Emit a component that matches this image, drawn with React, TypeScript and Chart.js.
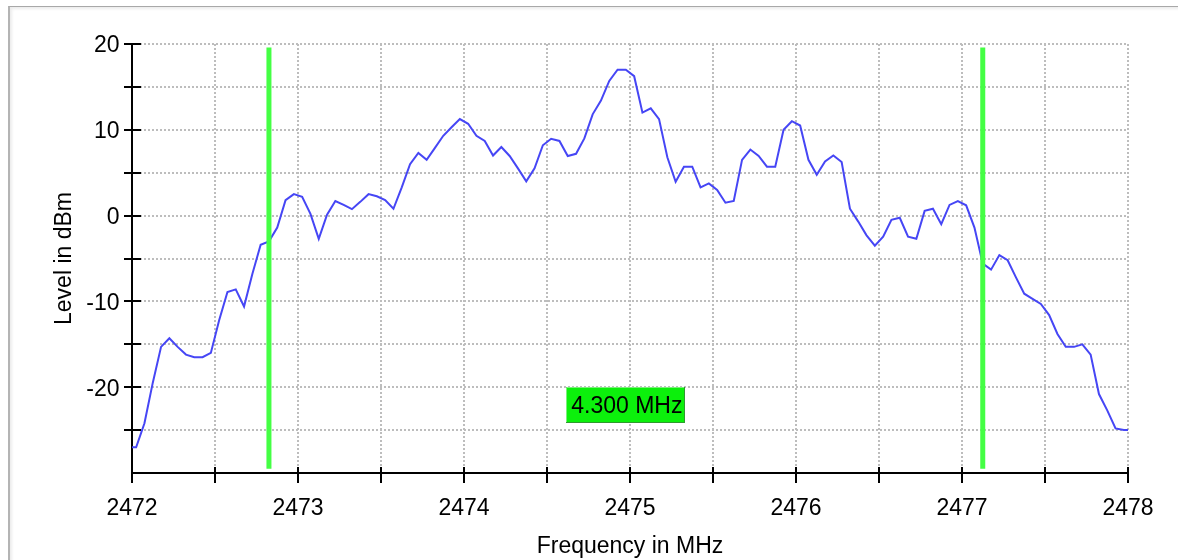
import React, { useEffect, useRef } from 'react';
import { Chart, registerables } from 'chart.js';

Chart.register(...registerables);

// Sweep definition (MHz): first sample and spacing of the analyzer trace
const FREQ_START = 2471.975;
const FREQ_STEP = 0.05;

// Measured level of each sweep point, dBm
const LEVELS_DBM = [
  -27.0,
  -27.0, -24.2, -19.5, -15.3, -14.3, -15.3, -16.2, -16.5, -16.5, -16.0,
  -12.2, -8.9, -8.6, -10.6, -6.8, -3.4, -3.0, -1.4, 1.8, 2.5,
  2.2, 0.2, -2.7, 0.1, 1.7, 1.25, 0.75, 1.6, 2.5, 2.25,
  1.8, 0.8, 3.3, 6.0, 7.3, 6.5, 7.9, 9.3, 10.3, 11.25,
  10.7, 9.3, 8.7, 7.0, 8.0, 6.95, 5.5, 4.0, 5.5, 8.2,
  8.95, 8.7, 6.95, 7.2, 9.0, 11.8, 13.4, 15.7, 17.0, 17.0,
  16.25, 12.0, 12.5, 11.25, 6.8, 3.95, 5.7, 5.7, 3.3, 3.75,
  3.0, 1.5, 1.7, 6.5, 7.7, 6.95, 5.7, 5.7, 10.0, 11.0,
  10.5, 6.5, 4.75, 6.3, 7.0, 6.25, 0.8, -0.7, -2.3, -3.5,
  -2.45, -0.5, -0.25, -2.45, -2.7, 0.55, 0.8, -1.0, 1.25, 1.7,
  1.2, -1.4, -5.6, -6.3, -4.6, -5.2, -7.2, -9.1, -9.7, -10.3,
  -11.6, -13.8, -15.3, -15.3, -15.0, -16.2, -20.8, -22.7, -24.8, -25.0,
  -25.0,
];

// Bandwidth markers (MHz) and their vertical extent (dBm)
const MARKER_FREQS = [2472.825, 2477.125];
const MARKER_TOP = 19.6;
const MARKER_BOTTOM = -29.5;
const LABEL_LEVEL = -22.1;

// Axes
const X_MIN = 2472;
const X_MAX = 2478;
const X_STEP = 0.5;
const Y_MIN = -30;
const Y_MAX = 20;
const Y_STEP = 5;
const X_TICK_LABELS = [2472, 2473, 2474, 2475, 2476, 2477, 2478];
const Y_TICK_LABELS = [20, 10, 0, -10, -20];
const X_TITLE = 'Frequency in MHz';
const Y_TITLE = 'Level in dBm';

const FONT = '"Liberation Sans", Arial, Helvetica, sans-serif';
const TEXT_SIZE = 23;

const hasLabel = (list: number[], v: number) => list.some((l) => Math.abs(l - v) < 1e-6);

const framePlugin = {
  id: 'spectrumFrame',
  beforeDatasetsDraw(chart: any) {
    const { ctx, chartArea: a, scales } = chart;
    const x = scales.x;
    const y = scales.y;
    const left = Math.round(a.left);
    const right = Math.round(a.right);
    const top = Math.round(a.top);
    const bottom = Math.round(a.bottom);
    ctx.save();
    // dotted grid
    ctx.strokeStyle = '#bdbdbd';
    ctx.lineWidth = 2;
    ctx.setLineDash([2, 2]);
    x.ticks.forEach((t: any) => {
      if (t.value <= X_MIN + 1e-6) return;
      const px = Math.round(x.getPixelForValue(t.value));
      ctx.beginPath();
      ctx.moveTo(px, top);
      ctx.lineTo(px, bottom);
      ctx.stroke();
    });
    y.ticks.forEach((t: any) => {
      if (t.value <= Y_MIN + 1e-6) return;
      const py = Math.round(y.getPixelForValue(t.value));
      ctx.beginPath();
      ctx.moveTo(left, py);
      ctx.lineTo(right, py);
      ctx.stroke();
    });
    ctx.setLineDash([]);
    // axis lines
    ctx.strokeStyle = '#000';
    ctx.lineWidth = 2;
    ctx.beginPath();
    ctx.moveTo(left, top);
    ctx.lineTo(left, bottom + 10);
    ctx.stroke();
    ctx.beginPath();
    ctx.moveTo(left, bottom);
    ctx.lineTo(right, bottom);
    ctx.stroke();
    // crossing tick marks
    y.ticks.forEach((t: any) => {
      if (t.value <= Y_MIN + 1e-6) return;
      const py = Math.round(y.getPixelForValue(t.value));
      ctx.beginPath();
      ctx.moveTo(left - 8, py);
      ctx.lineTo(left + 9, py);
      ctx.stroke();
    });
    x.ticks.forEach((t: any) => {
      if (t.value <= X_MIN + 1e-6) return;
      const px = Math.round(x.getPixelForValue(t.value));
      ctx.beginPath();
      ctx.moveTo(px, bottom - 6);
      ctx.lineTo(px, bottom + 10);
      ctx.stroke();
    });
    ctx.restore();
  },
  afterDatasetsDraw(chart: any) {
    const { ctx, scales } = chart;
    const x = scales.x;
    const y = scales.y;
    const mid = (MARKER_FREQS[0] + MARKER_FREQS[1]) / 2;
    const text = `${(MARKER_FREQS[1] - MARKER_FREQS[0]).toFixed(3)} MHz`;
    ctx.save();
    ctx.font = `${TEXT_SIZE}px ${FONT}`;
    const w = Math.round(ctx.measureText(text).width + 8);
    const h = 36;
    const cx = x.getPixelForValue(mid);
    const cy = y.getPixelForValue(LABEL_LEVEL);
    const bx = Math.round(cx - w / 2);
    const by = Math.round(cy - h / 2);
    ctx.fillStyle = '#0cf00c';
    ctx.fillRect(bx, by, w, h);
    // bevelled border
    ctx.lineWidth = 1;
    ctx.strokeStyle = '#7cf07c';
    ctx.beginPath();
    ctx.moveTo(bx + 0.5, by + h);
    ctx.lineTo(bx + 0.5, by + 0.5);
    ctx.lineTo(bx + w, by + 0.5);
    ctx.stroke();
    ctx.strokeStyle = '#2f9a2f';
    ctx.beginPath();
    ctx.moveTo(bx + w - 0.5, by);
    ctx.lineTo(bx + w - 0.5, by + h - 0.5);
    ctx.lineTo(bx, by + h - 0.5);
    ctx.stroke();
    ctx.fillStyle = '#000';
    ctx.textAlign = 'center';
    ctx.textBaseline = 'middle';
    ctx.fillText(text, cx + 1, cy + 1);
    ctx.restore();
  },
};

export default function App() {
  const canvasRef = useRef<HTMLCanvasElement | null>(null);

  useEffect(() => {
    const canvas = canvasRef.current;
    if (!canvas) return;
    const spectrum = LEVELS_DBM.map((v, i) => ({ x: FREQ_START + i * FREQ_STEP, y: v }));
    const markerSets = MARKER_FREQS.map((f) => ({
      type: 'line' as const,
      data: [
        { x: f, y: MARKER_TOP },
        { x: f, y: MARKER_BOTTOM },
      ],
      borderColor: '#44ff44',
      borderWidth: 5,
      pointRadius: 0,
      fill: false,
      tension: 0,
    }));
    const chart = new Chart(canvas, {
      type: 'line',
      data: {
        datasets: [
          ...markerSets,
          {
            data: spectrum,
            borderColor: '#4646f5',
            borderWidth: 2,
            pointRadius: 0,
            fill: false,
            tension: 0,
          },
        ],
      },
      options: {
        animation: false,
        responsive: false,
        devicePixelRatio: 1,
        layout: { padding: { top: 44, right: 50, bottom: 0, left: 0 } },
        plugins: { legend: { display: false }, tooltip: { enabled: false } },
        events: [],
        scales: {
          x: {
            type: 'linear',
            min: X_MIN,
            max: X_MAX,
            grid: { display: false, drawTicks: false },
            border: { display: false },
            afterFit: (s: any) => {
              s.height = 87;
            },
            ticks: {
              stepSize: X_STEP,
              autoSkip: false,
              maxRotation: 0,
              minRotation: 0,
              padding: 22,
              color: '#000',
              font: { family: FONT, size: TEXT_SIZE },
              callback: (v: any) => (hasLabel(X_TICK_LABELS, Number(v)) ? String(v) : ''),
            },
            title: {
              display: true,
              text: X_TITLE,
              color: '#000',
              font: { family: FONT, size: TEXT_SIZE },
              padding: { top: 0, bottom: 0 },
            },
          },
          y: {
            type: 'linear',
            min: Y_MIN,
            max: Y_MAX,
            grid: { display: false, drawTicks: false },
            border: { display: false },
            afterFit: (s: any) => {
              s.width = 132;
            },
            ticks: {
              stepSize: Y_STEP,
              autoSkip: false,
              padding: 12.5,
              labelOffset: 2,
              color: '#000',
              font: { family: FONT, size: TEXT_SIZE },
              callback: (v: any) => (hasLabel(Y_TICK_LABELS, Number(v)) ? String(v) : ''),
            },
            title: {
              display: true,
              text: Y_TITLE,
              color: '#000',
              font: { family: FONT, size: TEXT_SIZE },
              padding: { top: 51, bottom: 0 },
            },
          },
        },
      },
      plugins: [framePlugin],
    } as any);
    return () => chart.destroy();
  }, []);

  return (
    <div
      style={{
        position: 'fixed',
        left: 0,
        top: 0,
        width: 1178,
        height: 560,
        overflow: 'hidden',
        background: '#fff',
      }}
    >
      <div
        style={{
          position: 'absolute',
          left: 8,
          top: 6,
          width: 1300,
          height: 700,
          borderTop: '1px solid #a8a8a8',
          borderLeft: '2px solid #b4b4b4',
          boxShadow: 'inset 2px 2px 3px rgba(0,0,0,0.08)',
        }}
      />
      <canvas
        ref={canvasRef}
        width={1178}
        height={560}
        style={{ position: 'absolute', left: 0, top: 0, display: 'block' }}
      />
    </div>
  );
}
